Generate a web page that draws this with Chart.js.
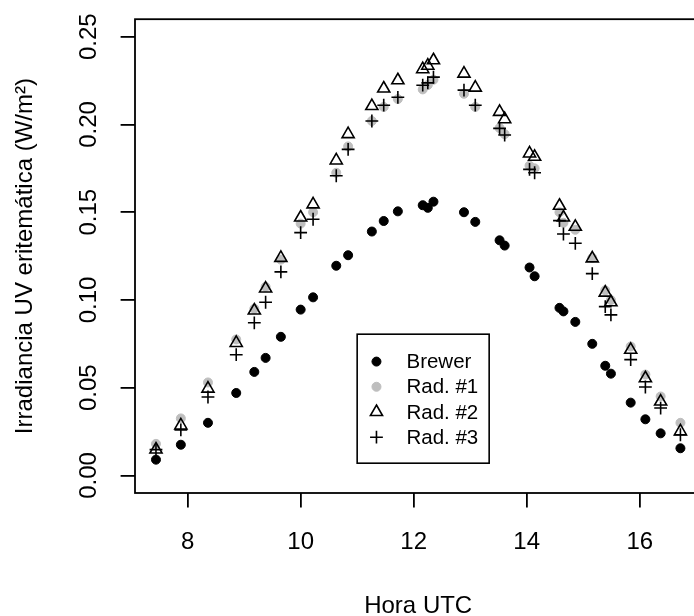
<!DOCTYPE html>
<html><head><meta charset="utf-8">
<style>
html,body{margin:0;padding:0;overflow:hidden;background:#fff;width:694px;height:616px}
#wrap{width:694px;height:616px;overflow:hidden;position:relative}
canvas{display:block}
</style>
<script src="https://cdn.jsdelivr.net/npm/chart.js@4"></script>
</head><body><div id="wrap"><canvas id="c" width="710" height="616"></canvas></div>
<script>
const seriesNames = ['Brewer', 'Rad. #1', 'Rad. #2', 'Rad. #3'];
const horaUTC = [7.44, 7.88, 8.36, 8.86, 9.18, 9.38, 9.65, 10.00, 10.22, 10.63, 10.84, 11.26, 11.47, 11.72, 12.16, 12.25, 12.35, 12.89, 13.09, 13.52, 13.61, 14.05, 14.14, 14.58, 14.65, 14.86, 15.16, 15.39, 15.49, 15.84, 16.10, 16.37, 16.72];
const brewer = [0.009, 0.0175, 0.030, 0.047, 0.059, 0.067, 0.079, 0.0945, 0.1015, 0.1195, 0.1255, 0.139, 0.145, 0.1505, 0.154, 0.1525, 0.156, 0.150, 0.1445, 0.134, 0.131, 0.1185, 0.1135, 0.0955, 0.0935, 0.0875, 0.075, 0.0625, 0.058, 0.0415, 0.032, 0.024, 0.0155];
const rad1 = [0.018, 0.0325, 0.053, 0.0775, 0.095, 0.1075, 0.123, 0.1435, 0.150, 0.1725, 0.1875, 0.202, 0.210, 0.2145, 0.220, 0.2225, 0.2255, 0.2175, 0.210, 0.198, 0.1945, 0.1765, 0.175, 0.150, 0.144, 0.140, 0.124, 0.1055, 0.100, 0.0735, 0.0575, 0.045, 0.030];
const rad2 = [0.0148, 0.0285, 0.0495, 0.0755, 0.094, 0.1065, 0.124, 0.147, 0.1545, 0.1795, 0.1945, 0.2105, 0.2205, 0.2252, 0.2315, 0.2335, 0.2366, 0.229, 0.221, 0.2072, 0.203, 0.1835, 0.1816, 0.1537, 0.147, 0.1417, 0.1237, 0.1042, 0.0987, 0.0716, 0.0554, 0.0421, 0.0251];
const rad3 = [0.0147, 0.026, 0.0447, 0.0688, 0.087, 0.0987, 0.116, 0.1384, 0.146, 0.1708, 0.1858, 0.202, 0.211, 0.2155, 0.2224, 0.2237, 0.227, 0.2196, 0.211, 0.1978, 0.194, 0.1744, 0.1725, 0.1452, 0.1376, 0.1323, 0.115, 0.0962, 0.0915, 0.066, 0.0504, 0.0384, 0.0232];
const xTicks = [8, 10, 12, 14, 16];
const yTicks = [0, 0.05, 0.10, 0.15, 0.20, 0.25];
const xTitle = 'Hora UTC';
const yTitle = 'Irradiancia UV eritemática (W/m²)';
const legendAt = {x: 11.0, y: 0.0805};

const FONT = "'Liberation Sans', Arial, Helvetica, sans-serif";
const xMin = Math.min(...horaUTC), xMax = Math.max(...horaUTC);
const xPad = 0.04 * (xMax - xMin);

const styles = [
  {pointStyle: 'circle', radius: 4.5, fill: '#000000', stroke: '#000000', bw: 1},
  {pointStyle: 'circle', radius: 4.5, fill: '#bebebe', stroke: '#bebebe', bw: 1},
  {pointStyle: 'triangle', radius: 7, fill: 'rgba(0,0,0,0)', stroke: '#000000', bw: 1.6},
  {pointStyle: 'cross', radius: 6.4, fill: 'rgba(0,0,0,0)', stroke: '#000000', bw: 1.6}
];
const seriesValues = [brewer, rad1, rad2, rad3];

const datasets = seriesValues.map((vals, k) => ({
  label: seriesNames[k],
  data: horaUTC.map((x, i) => ({x: x, y: vals[i]})),
  showLine: false,
  order: 4 - k,
  pointStyle: styles[k].pointStyle,
  pointRadius: styles[k].radius,
  pointHoverRadius: styles[k].radius,
  pointBackgroundColor: styles[k].fill,
  pointBorderColor: styles[k].stroke,
  pointBorderWidth: styles[k].bw,
  pointHoverBorderWidth: styles[k].bw
}));

function drawSymbol(ctx, st, x, y) {
  ctx.save();
  ctx.fillStyle = st.fill; ctx.strokeStyle = st.stroke; ctx.lineWidth = st.bw;
  ctx.beginPath();
  const r = st.radius;
  if (st.pointStyle === 'circle') {
    ctx.arc(x, y, r, 0, Math.PI * 2); ctx.fill(); ctx.stroke();
  } else if (st.pointStyle === 'triangle') {
    for (let i = 0; i < 3; i++) {
      const a = i * 2 * Math.PI / 3;
      const px = x + Math.sin(a) * r, py = y - Math.cos(a) * r;
      if (i === 0) ctx.moveTo(px, py); else ctx.lineTo(px, py);
    }
    ctx.closePath(); ctx.stroke();
  } else {
    ctx.moveTo(x - r, y); ctx.lineTo(x + r, y);
    ctx.moveTo(x, y - r); ctx.lineTo(x, y + r); ctx.stroke();
  }
  ctx.restore();
}

const boxPlugin = {
  id: 'rbox',
  afterDatasetsDraw(chart) {
    const {ctx, chartArea: a} = chart;
    ctx.save();
    ctx.strokeStyle = '#000'; ctx.lineWidth = 1.8;
    ctx.strokeRect(a.left, a.top, a.right - a.left, a.bottom - a.top);
    ctx.restore();
  }
};

const legendPlugin = {
  id: 'rlegend',
  afterDraw(chart) {
    const ctx = chart.ctx;
    const lx = chart.scales.x.getPixelForValue(legendAt.x);
    const ly = chart.scales.y.getPixelForValue(legendAt.y);
    const w = 132, h = 129, rowH = 25.2;
    ctx.save();
    ctx.fillStyle = '#fff';
    ctx.fillRect(lx, ly, w, h);
    ctx.strokeStyle = '#000'; ctx.lineWidth = 1.6;
    ctx.strokeRect(lx, ly, w, h);
    ctx.font = '20.5px ' + FONT;
    ctx.textBaseline = 'middle'; ctx.textAlign = 'left';
    seriesNames.forEach((name, k) => {
      const cy = ly + 27.4 + k * rowH;
      drawSymbol(ctx, styles[k], lx + 19.3, cy);
      ctx.fillStyle = '#000';
      ctx.fillText(name, lx + 49.3, cy + 1);
    });
    ctx.restore();
  }
};

new Chart(document.getElementById('c'), {
  type: 'scatter',
  data: {datasets: datasets},
  options: {
    responsive: false,
    animation: false,
    events: [],
    layout: {padding: {top: 19.2, right: 5, bottom: 0, left: 0}},
    plugins: {legend: {display: false}, tooltip: {enabled: false}},
    scales: {
      x: {
        type: 'linear', position: 'bottom',
        min: xMin - xPad, max: xMax + xPad,
        afterBuildTicks: s => { s.ticks = xTicks.map(v => ({value: v})); },
        afterFit: s => { s.height = 123; s.paddingLeft = 0; s.paddingRight = 0; },
        grid: {drawOnChartArea: false, drawTicks: true, tickLength: 14.4, color: '#000', lineWidth: 1.8},
        border: {display: false},
        ticks: {color: '#000', font: {family: FONT, size: 24}, padding: 20.9, minRotation: 0, maxRotation: 0, autoSkip: false,
                callback: v => String(v)},
        title: {display: true, text: xTitle, color: '#000', font: {family: FONT, size: 24, lineHeight: 1}, padding: {top: 0, bottom: -2}}
      },
      y: {
        type: 'linear', position: 'left',
        min: -0.01, max: 0.26,
        afterBuildTicks: s => { s.ticks = yTicks.map(v => ({value: v})); },
        afterFit: s => { s.width = 135; s.paddingTop = 0; s.paddingBottom = 0; },
        grid: {drawOnChartArea: false, drawTicks: true, tickLength: 14.4, color: '#000', lineWidth: 1.8},
        border: {display: false},
        ticks: {color: '#000', font: {family: FONT, size: 24}, padding: 7.75, minRotation: 90, maxRotation: 90, crossAlign: 'center', autoSkip: false,
                callback: v => Number(v).toFixed(2)},
        title: {display: true, text: yTitle, color: '#000', font: {family: FONT, size: 24, lineHeight: 1}, padding: {top: 13, bottom: 0}}
      }
    }
  },
  plugins: [boxPlugin, legendPlugin]
});
</script>
</body></html>
